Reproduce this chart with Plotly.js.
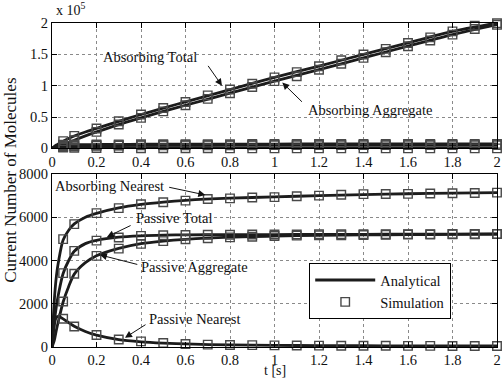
<!DOCTYPE html>
<html>
<head>
<meta charset="utf-8">
<script src="https://cdn.plot.ly/plotly-3.0.1.min.js"></script>
<style>
  html, body { margin: 0; padding: 0; background: #fff; }
  #chart { width: 504px; height: 380px; }
</style>
</head>
<body>
<div id="chart"></div>
<script>
// Time grids [s]
var tLine = [0, 0.01, 0.02, 0.03, 0.05, 0.075, 0.1, 0.15, 0.2, 0.3, 0.4, 0.5, 0.6, 0.8, 1.0, 1.2, 1.4, 1.6, 1.8, 2.0];
var tSim = [0.05, 0.1, 0.2, 0.3, 0.4, 0.5, 0.6, 0.7, 0.8, 0.9, 1.0, 1.1, 1.2, 1.3, 1.4, 1.5, 1.6, 1.7, 1.8, 1.9, 2.0];

// Analytical curves
var absTotalLine = [0, 3000, 5500, 7500, 11200, 15800, 19800, 26200, 31800, 43200, 54000, 64300, 74200, 93800, 113200, 131300, 149900, 168300, 186600, 200000];
var absAggLine   = [0, 400, 1300, 2500, 5500, 9200, 13000, 20000, 26400, 38000, 48700, 59000, 68800, 88000, 107300, 125500, 144400, 163000, 181400, 197500];
var absNearLine  = [0, 2100, 3300, 4000, 4950, 5400, 5690, 6000, 6180, 6430, 6590, 6700, 6780, 6880, 6940, 7000, 7050, 7085, 7115, 7140];
var pasTotalLine = [0, 1100, 1900, 2500, 3400, 4000, 4430, 4780, 4930, 5080, 5140, 5170, 5185, 5195, 5200, 5205, 5210, 5215, 5220, 5225];
var pasAggLine   = [0, 300, 800, 1250, 2080, 2800, 3370, 3900, 4220, 4560, 4780, 4900, 4980, 5080, 5130, 5160, 5180, 5195, 5210, 5220];
var pasNearLine  = [0, 1000, 1380, 1420, 1300, 1130, 960, 720, 545, 340, 240, 180, 140, 95, 75, 65, 58, 52, 48, 45];

// Simulation results
var absTotalSim = [11600, 20000, 31700, 43300, 54000, 64500, 74000, 84600, 94000, 103000, 113200, 121600, 131000, 140600, 149700, 158700, 168000, 177000, 186700, 195700, 199500];
var absAggSim   = [6000, 13000, 26400, 38000, 48600, 59000, 68700, 79000, 88000, 98000, 107300, 115000, 125400, 135000, 144400, 153300, 163000, 172000, 181400, 190500, 197000];
var absNearSim  = [4990, 5680, 6190, 6420, 6600, 6690, 6770, 6840, 6870, 6910, 6930, 6970, 7000, 7040, 7070, 7075, 7080, 7100, 7110, 7120, 7140];
var pasTotalSim = [3415, 4445, 4920, 5060, 5140, 5170, 5180, 5190, 5190, 5200, 5200, 5205, 5210, 5210, 5215, 5215, 5220, 5220, 5225, 5225, 5230];
var pasAggSim   = [2105, 3385, 4215, 4550, 4770, 4895, 4985, 5030, 5070, 5100, 5130, 5150, 5160, 5170, 5180, 5190, 5200, 5205, 5210, 5215, 5220];
var pasNearSim  = [1305, 950, 555, 350, 260, 185, 140, 110, 95, 85, 75, 70, 65, 60, 58, 55, 52, 50, 48, 47, 45];

// Tick labels
var xTickVals = [0, 0.2, 0.4, 0.6, 0.8, 1, 1.2, 1.4, 1.6, 1.8, 2];
var xTickText = ['0', '0.2', '0.4', '0.6', '0.8', '1', '1.2', '1.4', '1.6', '1.8', '2'];
var yTopVals = [0, 50000, 100000, 150000, 200000];
var yTopText = ['0', '0.5', '1', '1.5', '2'];
var yBotVals = [0, 2000, 4000, 6000, 8000];
var yBotText = ['0', '2000', '4000', '6000', '8000'];

var FONT = 'Liberation Serif, Times New Roman, serif';
var lineStyle = { color: '#1c1c1c', width: 2.8, shape: 'spline', smoothing: 0.8 };
var markStyle = { symbol: 'square-open', size: 8.5, color: '#484848', line: { width: 1.4, color: '#484848' } };

function lineTrace(y, xa, ya, name, show) {
  return { x: tLine, y: y, xaxis: xa, yaxis: ya, mode: 'lines', line: lineStyle,
           name: name || '', showlegend: !!show, hoverinfo: 'skip', legendrank: 1 };
}
function simTrace(y, xa, ya, name, show) {
  return { x: tSim, y: y, xaxis: xa, yaxis: ya, mode: 'markers', marker: markStyle,
           cliponaxis: false, name: name || '', showlegend: !!show, hoverinfo: 'skip', legendrank: 2 };
}

var lines = [absTotalLine, absAggLine, absNearLine, pasTotalLine, pasAggLine, pasNearLine];
var sims = [absTotalSim, absAggSim, absNearSim, pasTotalSim, pasAggSim, pasNearSim];

var traces = [];
// upper panel: all six curves on the 10^5 scale
lines.forEach(function (y) { traces.push(lineTrace(y, 'x', 'y')); });
sims.forEach(function (y) { traces.push(simTrace(y, 'x', 'y')); });
// lower panel: nearest/passive curves
traces.push(lineTrace(absNearLine, 'x2', 'y2', 'Analytical', true));
[pasTotalLine, pasAggLine, pasNearLine].forEach(function (y) { traces.push(lineTrace(y, 'x2', 'y2')); });
traces.push(simTrace(absNearSim, 'x2', 'y2', 'Simulation', true));
[pasTotalSim, pasAggSim, pasNearSim].forEach(function (y) { traces.push(simTrace(y, 'x2', 'y2')); });

function axisBase(extra) {
  var a = {
    showline: true, linecolor: '#000', linewidth: 1, mirror: 'ticks',
    ticks: 'inside', ticklen: 5, tickwidth: 1, tickcolor: '#000',
    showgrid: true, gridcolor: '#8a8a8a', gridwidth: 1, griddash: 'dot',
    zeroline: false, tickfont: { family: FONT, size: 14.5, color: '#111' },
    fixedrange: true
  };
  for (var k in extra) a[k] = extra[k];
  return a;
}

var annFont = { family: FONT, size: 14.5, color: '#111' };
function label(text, x, y, xr, yr) {
  return { text: text, x: x, y: y, xref: xr, yref: yr, showarrow: false, font: annFont,
           xanchor: 'center', yanchor: 'middle' };
}
function arrow(x, y, ax, ay, xr, yr) {
  return { text: '', x: x, y: y, ax: ax, ay: ay, xref: xr, yref: yr, axref: xr, ayref: yr,
           showarrow: true, arrowhead: 2, arrowsize: 1.4, arrowwidth: 1, arrowcolor: '#111', standoff: 0 };
}

var annotations = [
  label('Absorbing Total', 0.44, 145000, 'x', 'y'),
  arrow(0.764, 100000, 0.697, 134000, 'x', 'y'),
  label('Absorbing Aggregate', 1.43, 61000, 'x', 'y'),
  arrow(1.035, 105000, 1.13, 72000, 'x', 'y'),
  label('Absorbing Nearest', 0.26, 7460, 'x2', 'y2'),
  arrow(0.689, 7030, 0.52, 7400, 'x2', 'y2'),
  label('Passive Total', 0.549, 5970, 'x2', 'y2'),
  arrow(0.247, 5090, 0.36, 5650, 'x2', 'y2'),
  label('Passive Aggregate', 0.64, 3707, 'x2', 'y2'),
  arrow(0.215, 4260, 0.39, 3800, 'x2', 'y2'),
  label('Passive Nearest', 0.64, 1307, 'x2', 'y2'),
  arrow(0.328, 430, 0.427, 1076, 'x2', 'y2'),
  { text: 'x 10<sup>5</sup>', x: 0.004, y: 1.0, xref: 'paper', yref: 'paper', yshift: 3,
    xanchor: 'left', yanchor: 'bottom', showarrow: false, font: { family: FONT, size: 14, color: '#111' } },
  { text: 'Current Number of Molecules', x: -0.095, y: 0.515, xref: 'paper', yref: 'paper',
    textangle: -90, showarrow: false, xanchor: 'center', yanchor: 'middle',
    font: { family: FONT, size: 17, color: '#111' } },
  { text: 't [s]', x: 0.5, y: -0.1019, xref: 'paper', yref: 'paper', showarrow: false,
    xanchor: 'center', yanchor: 'bottom', font: { family: FONT, size: 14, color: '#111' } }
];

var layout = {
  width: 504, height: 380,
  margin: { l: 52, r: 7, t: 23, b: 33 },
  paper_bgcolor: '#fff', plot_bgcolor: '#fff',
  font: { family: FONT, color: '#111' },
  showlegend: true,
  legend: {
    x: 0.578, y: 0.259, xanchor: 'left', yanchor: 'top',
    bgcolor: '#fff', bordercolor: '#000', borderwidth: 1,
    font: { family: FONT, size: 14.5, color: '#111' },
    itemwidth: 60, tracegroupgap: 0, traceorder: 'normal'
  },
  xaxis: axisBase({ domain: [0, 1], anchor: 'y', range: [0, 2], tickvals: xTickVals, ticktext: xTickText }),
  yaxis: axisBase({ domain: [0.613, 1], anchor: 'x', range: [0, 200000], tickvals: yTopVals, ticktext: yTopText }),
  xaxis2: axisBase({ domain: [0, 1], anchor: 'y2', range: [0, 2], tickvals: xTickVals, ticktext: xTickText }),
  yaxis2: axisBase({ domain: [0, 0.534], anchor: 'x2', range: [0, 8000], tickvals: yBotVals, ticktext: yBotText }),
  annotations: annotations
};

Plotly.newPlot('chart', traces, layout, { displayModeBar: false, staticPlot: true });
</script>
</body>
</html>
